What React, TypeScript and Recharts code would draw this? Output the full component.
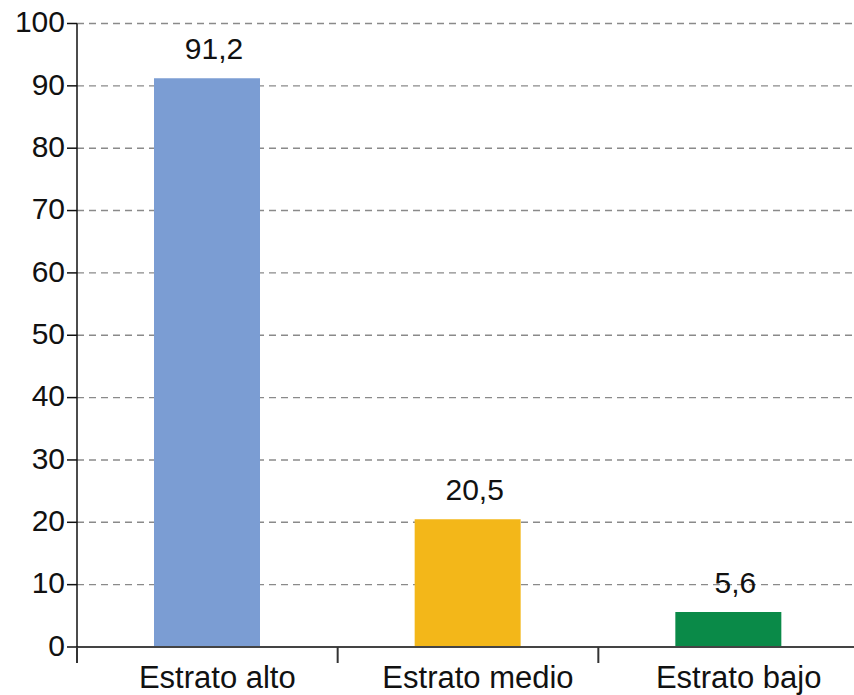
import React from "react";
import { BarChart, Bar, XAxis, YAxis, CartesianGrid, Cell, LabelList } from "recharts";

const categories = ["Estrato alto", "Estrato medio", "Estrato bajo"];
const values = [91.2, 20.5, 5.6];
const colors = ["#7b9dd3", "#f3b719", "#0a8a48"];
const yTicks = [0, 10, 20, 30, 40, 50, 60, 70, 80, 90, 100];

const data = categories.map((name, i) => ({ name, value: values[i] }));

const FONT = "'Liberation Sans', Arial, sans-serif";

const XTick = (props: any) => {
  const { x, y, payload } = props;
  const half = payload && payload.offset ? payload.offset : 130.3;
  return (
    <g>
      <line x1={x - half} y1={y} x2={x - half} y2={y + 16} stroke="#333" strokeWidth={2} />
      <text x={x + 10} y={y + 41} textAnchor="middle" fontSize={31} fill="#111" fontFamily={FONT}>
        {payload.value}
      </text>
    </g>
  );
};

const YTick = (props: any) => {
  const { x, y, payload } = props;
  return (
    <text x={x} y={y - 2} dy="0.355em" textAnchor="end" fontSize={30} fill="#111" fontFamily={FONT}>
      {payload.value}
    </text>
  );
};

const ValueLabel = (props: any) => {
  const { x, y, width, value } = props;
  return (
    <text x={x + width / 2 + 7} y={y - 19} textAnchor="middle" fontSize={30} fill="#111" fontFamily={FONT}>
      {String(value).replace(".", ",")}
    </text>
  );
};

export default function App() {
  return (
    <div style={{ position: "absolute", left: 0, top: 0, width: 854, height: 695, overflow: "hidden", background: "#fff" }}>
      <BarChart
        width={860}
        height={695}
        data={data}
        margin={{ top: 23.5, right: 1, bottom: 0, left: 0 }}
        barCategoryGap={0}
      >
        <CartesianGrid vertical={false} stroke="#8a8a8a" strokeWidth={1.4} strokeDasharray="7 5" />
        <XAxis
          dataKey="name"
          height={48}
          tickLine={false}
          tickSize={0}
          tickMargin={0}
          axisLine={{ stroke: "#444", strokeWidth: 2 }}
          tick={<XTick />}
          interval={0}
        />
        <YAxis
          width={77}
          domain={[0, 100]}
          ticks={yTicks}
          interval={0}
          tickSize={10}
          tickMargin={2}
          axisLine={{ stroke: "#111", strokeWidth: 1.5 }}
          tickLine={{ stroke: "#111", strokeWidth: 1.5 }}
          tick={<YTick />}
        />
        <Bar dataKey="value" barSize={106} isAnimationActive={false}>
          {data.map((d, i) => (
            <Cell key={d.name} fill={colors[i]} />
          ))}
          <LabelList dataKey="value" content={<ValueLabel />} />
        </Bar>
      </BarChart>
    </div>
  );
}
